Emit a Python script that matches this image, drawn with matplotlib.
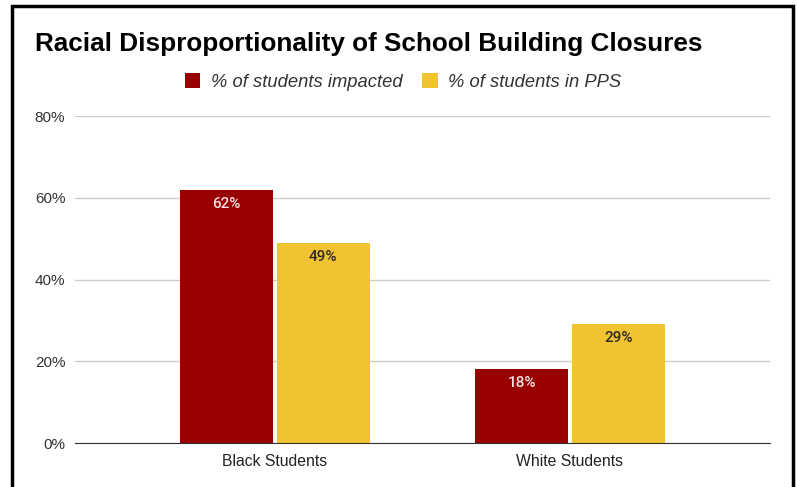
import matplotlib.pyplot as plt
import numpy as np
from matplotlib.patches import Rectangle

categories = ['Black Students', 'White Students']
impacted = [0.62, 0.18]
in_pps = [0.49, 0.29]
series_names = ['% of students impacted', '% of students in PPS']
colors = ['#990000', '#f1c232']
yticks = [0, 0.2, 0.4, 0.6, 0.8]

fig = plt.figure(figsize=(7.97, 4.87), dpi=100)
ax = fig.add_axes([0.0941, 0.0903, 0.8719, 0.6715])

x = np.arange(len(categories))
w = 0.315
gap = 0.006
b1 = ax.bar(x - w / 2 - gap, impacted, width=w, color=colors[0], label=series_names[0], zorder=3)
b2 = ax.bar(x + w / 2 + gap, in_pps, width=w, color=colors[1], label=series_names[1], zorder=3)

# labels inside the top of each bar
for bars, vals, tc in [(b1, impacted, '#f3e2e2'), (b2, in_pps, '#2b2b2b')]:
    for b, v in zip(bars, vals):
        ax.annotate('%d%%' % round(v * 100), (b.get_x() + b.get_width() / 2, v),
                    xytext=(0, -5), textcoords='offset points', ha='center', va='top',
                    fontsize=11, color=tc, family='Roboto', fontweight='medium', zorder=4)

ax.set_xlim(-0.678, 1.678)
ax.set_ylim(0, 0.8)
ax.set_yticks(yticks)
ax.set_yticklabels(['%d%%' % round(t * 100) for t in yticks], fontsize=11,
                   color='#333333', family='Liberation Sans')
ax.set_xticks(x)
ax.set_xticklabels(categories, fontsize=11.3, color='#222222', family='Liberation Sans')
ax.tick_params(length=0, pad=7)
ax.tick_params(axis='x', pad=8)
ax.grid(axis='y', color='#cccccc', lw=1, zorder=0)
for s in ['top', 'right', 'left']:
    ax.spines[s].set_visible(False)
ax.spines['bottom'].set_color('#333333')
ax.spines['bottom'].set_zorder(5)

fig.text(35 / 797, 1 - 44 / 487, 'Racial Disproportionality of School Building Closures',
         fontsize=18.8, fontweight='bold', family='Liberation Sans', va='center', ha='left')

leg = fig.legend(loc='center', bbox_to_anchor=(403 / 797, 1 - 82 / 487), ncol=2, frameon=False,
                 prop={'family': 'Liberation Sans', 'style': 'italic', 'size': 13.2},
                 handlelength=0.87, handleheight=0.87, columnspacing=1.1, handletextpad=0.55)
for t in leg.get_texts():
    t.set_color('#333333')

# black frame around the chart
fig.patches.append(Rectangle((12 / 797, -0.05), (793 - 12) / 797, 1.05 - 6 / 487,
                             transform=fig.transFigure, fill=False, ec='black', lw=2.5))

fig.savefig('out.png', dpi=100)
